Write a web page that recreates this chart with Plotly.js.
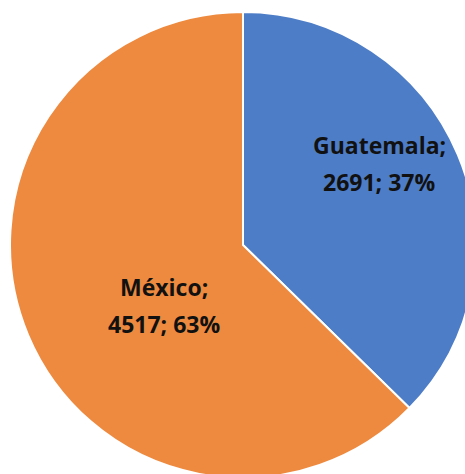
<!DOCTYPE html>
<html><head><meta charset="utf-8">
<script src="https://cdn.plot.ly/plotly-3.0.1.min.js"></script>
<style>
html,body{margin:0;padding:0;overflow:hidden;background:#fff;width:465px;height:474px}
#chart{position:absolute;left:10px;top:12px;width:466px;height:466px}
</style></head>
<body><div id="chart"></div>
<script>
const countries = ['Guatemala', 'México'];
const counts = [2691, 4517];
const sliceColors = ['#4e7dc7', '#ee8a3f'];

const total = counts.reduce((a, b) => a + b, 0);
const pct = counts.map(v => Math.round(100 * v / total) + '%');

const W = 466, H = 466, offX = 10, offY = 12;
// label line centres in window pixels: [x, y line1, y line2]
const labelPos = [[379, 145, 182], [164, 287, 324]];

const annotations = [];
countries.forEach((c, i) => {
  const [x, y1, y2] = labelPos[i];
  const lines = [c + ';', counts[i] + '; ' + pct[i]];
  [y1, y2].forEach((y, k) => {
    annotations.push({
      xref: 'paper', yref: 'paper',
      x: (x - offX) / W, y: 1 - (y - offY) / H,
      xanchor: 'center', yanchor: 'middle',
      text: '<b>' + lines[k] + '</b>', showarrow: false,
      font: {family: '"Open Sans", sans-serif', size: 23, color: '#111'}
    });
  });
});

const data = [{
  type: 'pie',
  labels: countries,
  values: counts,
  sort: false,
  direction: 'clockwise',
  rotation: 0,
  marker: {colors: sliceColors, line: {color: '#fff', width: 2}},
  textinfo: 'none',
  hoverinfo: 'label+value+percent',
  domain: {x: [0, 1], y: [0, 1]}
}];

const layout = {
  width: W, height: H,
  margin: {l: 0, r: 0, t: 0, b: 0},
  showlegend: false,
  paper_bgcolor: 'rgba(0,0,0,0)',
  annotations: annotations
};

Plotly.newPlot('chart', data, layout, {displayModeBar: false, staticPlot: true});
</script>
</body></html>
